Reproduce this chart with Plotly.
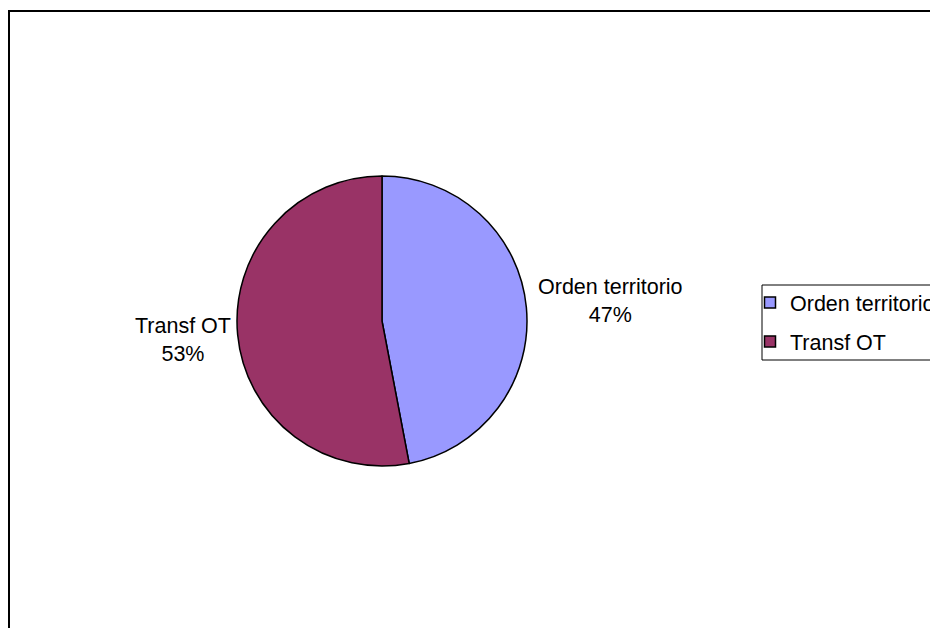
#!/usr/bin/env python3
"""Pie chart: Orden territorio vs Transf OT."""

import plotly.graph_objects as go

LABELS = ["Orden territorio", "Transf OT"]
VALUES = [47, 53]
COLORS = ["#9999FF", "#993366"]

W, H = 938, 628
OFFSET = 8  # page body margin around the plot div
FONT = {"family": "Liberation Sans, Arial, sans-serif", "size": 21.5, "color": "#000000"}


def px_x(x):
    return (x - OFFSET) / W


def px_y(y):
    return 1 - (y - OFFSET) / H


def main() -> None:
    total = sum(VALUES)
    fig = go.Figure()
    fig.add_trace(
        go.Pie(
            labels=LABELS,
            values=VALUES,
            marker={"colors": COLORS, "line": {"color": "#000000", "width": 1.5}},
            sort=False,
            direction="clockwise",
            rotation=0,
            textinfo="none",
            hoverinfo="label+percent",
            showlegend=False,
            domain={"x": [px_x(237), px_x(527)], "y": [px_y(467), px_y(175)]},
        )
    )

    # legend entries (squares with black outline)
    for label, color in zip(LABELS, COLORS):
        fig.add_trace(
            go.Scatter(
                x=[None],
                y=[None],
                mode="markers",
                marker={"symbol": "square", "size": 11, "color": color,
                        "line": {"color": "#000000", "width": 1.5}},
                name=label,
                legendgroup=label,
            )
        )

    # outside labels
    label_pos = [(610, 301), (183, 340)]
    annotations = []
    for label, value, (lx, ly) in zip(LABELS, VALUES, label_pos):
        annotations.append(
            {
                "text": f"{label}<br>{round(value / total * 100)}%",
                "x": px_x(lx),
                "y": px_y(ly),
                "xref": "paper",
                "yref": "paper",
                "xanchor": "center",
                "yanchor": "middle",
                "showarrow": False,
                "align": "center",
                "font": FONT,
            }
        )

    fig.update_layout(
        width=W,
        height=H,
        margin={"l": 0, "r": 0, "t": 0, "b": 0},
        paper_bgcolor="#ffffff",
        plot_bgcolor="#ffffff",
        font=FONT,
        xaxis={"visible": False},
        yaxis={"visible": False},
        annotations=annotations,
        legend={
            "x": px_x(750),
            "y": px_y(282),
            "xanchor": "left",
            "yanchor": "top",
            "font": FONT,
            "bgcolor": "rgba(0,0,0,0)",
            "borderwidth": 0,
            "tracegroupgap": 8,
        },
        shapes=[
            # chart frame, cut off at right and bottom
            {"type": "rect", "xref": "paper", "yref": "paper",
             "x0": px_x(9), "x1": px_x(980), "y0": px_y(680), "y1": px_y(11),
             "line": {"color": "#000000", "width": 2}},
            # legend frame
            {"type": "rect", "xref": "paper", "yref": "paper",
             "x0": px_x(762), "x1": px_x(980), "y0": px_y(360), "y1": px_y(285),
             "line": {"color": "#000000", "width": 1}},
        ],
    )
    fig.write_html("out.html")


if __name__ == "__main__":
    main()
